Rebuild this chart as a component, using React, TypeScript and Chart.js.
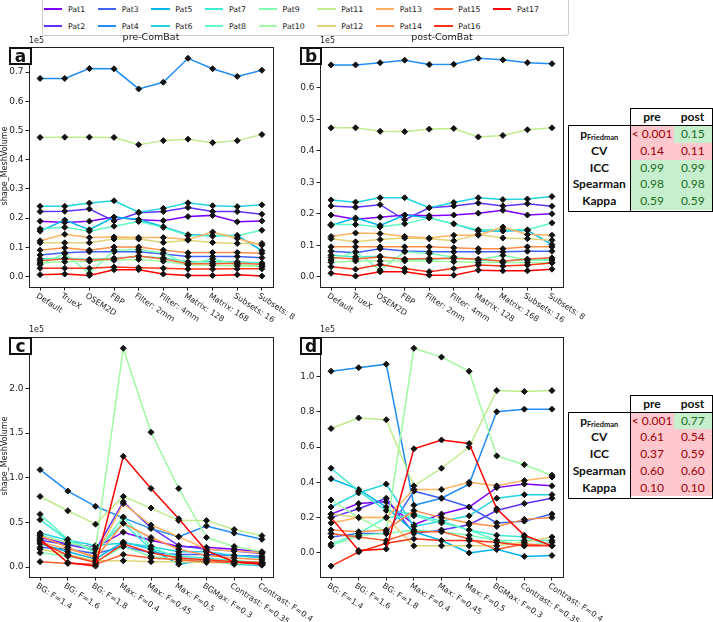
import React, { useEffect, useRef } from 'react';
import { Chart, registerables } from 'chart.js';

Chart.register(...registerables);

const PATIENTS = ['Pat1','Pat2','Pat3','Pat4','Pat5','Pat6','Pat7','Pat8','Pat9','Pat10','Pat11','Pat12','Pat13','Pat14','Pat15','Pat16','Pat17'];

const RECON_CATS = ['Default','TrueX','OSEM2D','FBP','Filter: 2mm','Filter: 4mm','Matrix: 128','Matrix: 168','Subsets: 16','Subsets: 8'];
const SEG_CATS = ['BG: F=1.4','BG: F=1.6','BG: F=1.8','Max: F=0.4','Max: F=0.45','Max: F=0.5','BGMax: F=0.3','Contrast: F=0.35','Contrast: F=0.4'];

// values in units of 1e5
const PRE_RECON: number[][] = [
  [0.189, 0.185, 0.189, 0.203, 0.194, 0.191, 0.205, 0.209, 0.187, 0.190],
  [0.222, 0.223, 0.231, 0.190, 0.218, 0.222, 0.236, 0.222, 0.222, 0.213],
  [0.073, 0.081, 0.084, 0.084, 0.084, 0.077, 0.068, 0.068, 0.068, 0.064],
  [0.678, 0.678, 0.712, 0.711, 0.642, 0.665, 0.747, 0.711, 0.685, 0.706],
  [0.155, 0.193, 0.160, 0.203, 0.195, 0.170, 0.143, 0.140, 0.140, 0.088],
  [0.240, 0.240, 0.251, 0.259, 0.220, 0.233, 0.252, 0.242, 0.239, 0.245],
  [0.060, 0.062, 0.058, 0.062, 0.068, 0.063, 0.050, 0.050, 0.050, 0.046],
  [0.163, 0.168, 0.155, 0.172, 0.188, 0.168, 0.140, 0.138, 0.140, 0.158],
  [0.040, 0.078, 0.010, 0.090, 0.092, 0.080, 0.042, 0.060, 0.040, 0.035],
  [0.046, 0.050, 0.052, 0.055, 0.058, 0.052, 0.040, 0.038, 0.036, 0.034],
  [0.476, 0.477, 0.477, 0.476, 0.451, 0.465, 0.470, 0.458, 0.465, 0.486],
  [0.115, 0.115, 0.115, 0.128, 0.128, 0.116, 0.124, 0.116, 0.113, 0.113],
  [0.122, 0.144, 0.133, 0.135, 0.133, 0.133, 0.126, 0.152, 0.130, 0.107],
  [0.090, 0.098, 0.090, 0.101, 0.101, 0.090, 0.081, 0.082, 0.082, 0.079],
  [0.054, 0.060, 0.056, 0.060, 0.070, 0.060, 0.043, 0.043, 0.045, 0.042],
  [0.028, 0.028, 0.028, 0.032, 0.030, 0.028, 0.025, 0.025, 0.026, 0.026],
  [0.006, 0.008, 0.003, 0.023, 0.023, 0.008, 0.003, 0.003, 0.006, 0.001],
];

const POST_RECON: number[][] = [
  [0.196, 0.183, 0.189, 0.196, 0.194, 0.196, 0.202, 0.211, 0.196, 0.200],
  [0.225, 0.221, 0.229, 0.181, 0.219, 0.225, 0.234, 0.225, 0.232, 0.224],
  [0.081, 0.076, 0.089, 0.082, 0.079, 0.079, 0.079, 0.079, 0.081, 0.081],
  [0.673, 0.673, 0.680, 0.688, 0.674, 0.675, 0.694, 0.689, 0.680, 0.677],
  [0.163, 0.187, 0.163, 0.196, 0.187, 0.168, 0.145, 0.145, 0.147, 0.102],
  [0.244, 0.237, 0.251, 0.251, 0.219, 0.236, 0.251, 0.245, 0.247, 0.255],
  [0.068, 0.063, 0.065, 0.055, 0.055, 0.061, 0.053, 0.050, 0.055, 0.053],
  [0.166, 0.166, 0.158, 0.168, 0.187, 0.168, 0.149, 0.149, 0.149, 0.171],
  [0.053, 0.079, 0.021, 0.079, 0.074, 0.063, 0.053, 0.068, 0.053, 0.053],
  [0.046, 0.050, 0.050, 0.050, 0.050, 0.048, 0.045, 0.045, 0.045, 0.045],
  [0.473, 0.473, 0.462, 0.461, 0.469, 0.471, 0.444, 0.449, 0.467, 0.473],
  [0.121, 0.111, 0.118, 0.123, 0.121, 0.114, 0.135, 0.123, 0.121, 0.116],
  [0.128, 0.139, 0.137, 0.128, 0.123, 0.132, 0.132, 0.158, 0.134, 0.132],
  [0.095, 0.095, 0.095, 0.095, 0.095, 0.092, 0.089, 0.089, 0.095, 0.095],
  [0.061, 0.056, 0.063, 0.056, 0.058, 0.058, 0.056, 0.049, 0.056, 0.060],
  [0.032, 0.024, 0.039, 0.026, 0.016, 0.026, 0.037, 0.034, 0.037, 0.044],
  [0.011, 0.002, 0.016, 0.016, 0.005, 0.005, 0.021, 0.019, 0.019, 0.024],
];

const PRE_SEG: number[][] = [
  [0.33, 0.26, 0.22, 0.39, 0.30, 0.23, 0.22, 0.20, 0.17],
  [0.30, 0.25, 0.19, 0.73, 0.44, 0.24, 0.20, 0.18, 0.15],
  [0.22, 0.20, 0.15, 0.23, 0.16, 0.14, 0.14, 0.13, 0.12],
  [1.09, 0.85, 0.68, 0.55, 0.43, 0.34, 0.46, 0.38, 0.31],
  [0.26, 0.17, 0.09, 0.28, 0.20, 0.03, 0.08, 0.03, 0.02],
  [0.38, 0.30, 0.24, 0.27, 0.23, 0.17, 0.17, 0.13, 0.10],
  [0.53, 0.30, 0.19, 0.49, 0.20, 0.12, 0.10, 0.07, 0.05],
  [0.59, 0.31, 0.16, 0.56, 0.23, 0.09, 0.08, 0.05, 0.04],
  [0.16, 0.12, 0.06, 0.23, 0.12, 0.08, 0.06, 0.04, 0.03],
  [0.36, 0.27, 0.21, 2.45, 1.51, 0.88, 0.33, 0.23, 0.17],
  [0.79, 0.63, 0.48, 0.79, 0.66, 0.52, 0.52, 0.42, 0.35],
  [0.20, 0.14, 0.07, 0.07, 0.06, 0.06, 0.05, 0.05, 0.05],
  [0.28, 0.20, 0.12, 0.71, 0.47, 0.34, 0.20, 0.18, 0.16],
  [0.35, 0.22, 0.10, 0.49, 0.33, 0.20, 0.13, 0.10, 0.08],
  [0.06, 0.04, 0.03, 0.14, 0.10, 0.08, 0.06, 0.05, 0.04],
  [0.28, 0.13, 0.05, 0.26, 0.16, 0.10, 0.08, 0.06, 0.05],
  [0.31, 0.05, 0.01, 1.24, 0.88, 0.54, 0.18, 0.06, 0.03],
];

const POST_SEG: number[][] = [
  [0.22, 0.28, 0.29, 0.16, 0.22, 0.26, 0.37, 0.39, 0.38],
  [0.20, 0.25, 0.31, 0.11, 0.13, 0.16, 0.24, 0.28, 0.31],
  [0.09, 0.11, 0.11, 0.35, 0.31, 0.26, 0.17, 0.18, 0.22],
  [1.03, 1.05, 1.07, 0.27, 0.31, 0.39, 0.80, 0.815, 0.815],
  [0.42, 0.36, 0.26, 0.12, 0.07, 0.00, 0.02, -0.02, -0.015],
  [0.26, 0.34, 0.39, 0.15, 0.18, 0.21, 0.31, 0.33, 0.33],
  [0.48, 0.35, 0.24, 0.22, 0.18, 0.13, 0.10, 0.09, 0.04],
  [0.05, 0.11, 0.20, 0.21, 0.17, 0.13, 0.07, 0.07, 0.07],
  [0.04, 0.10, 0.11, 0.13, 0.12, 0.10, 0.07, 0.04, 0.06],
  [0.30, 0.20, 0.12, 1.16, 1.11, 1.03, 0.55, 0.50, 0.44],
  [0.705, 0.765, 0.755, 0.38, 0.48, 0.60, 0.92, 0.915, 0.92],
  [0.22, 0.20, 0.20, 0.04, 0.04, 0.04, 0.04, 0.06, 0.09],
  [0.17, 0.20, 0.20, 0.36, 0.36, 0.40, 0.38, 0.41, 0.43],
  [0.13, 0.12, 0.13, 0.24, 0.20, 0.17, 0.15, 0.19, 0.20],
  [0.11, 0.09, 0.07, 0.12, 0.12, 0.08, 0.02, 0.05, 0.04],
  [-0.075, 0.005, 0.055, 0.08, 0.07, 0.07, 0.06, 0.04, 0.04],
  [0.20, 0.013, 0.022, 0.59, 0.64, 0.62, 0.25, 0.10, 0.04],
];

const STAT_LABELS = ['Friedman', 'CV', 'ICC', 'Spearman', 'Kappa'];
const T1_PRE = ['< 0.001', '0.14', '0.99', '0.98', '0.59'];
const T1_POST = ['0.15', '0.11', '0.99', '0.98', '0.59'];
const T1_PRE_OK = [false, false, true, true, true];
const T1_POST_OK = [true, false, true, true, true];
const T2_PRE = ['< 0.001', '0.61', '0.37', '0.60', '0.10'];
const T2_POST = ['0.77', '0.54', '0.59', '0.60', '0.10'];
const T2_PRE_OK = [false, false, false, false, false];
const T2_POST_OK = [true, false, false, false, false];

function rainbow(t: number) {
  const r = Math.min(1, Math.abs(2 * t - 0.5));
  const g = Math.sin(Math.PI * t);
  const b = Math.cos((Math.PI * t) / 2);
  const h = (v: number) => Math.round(Math.max(0, Math.min(1, v)) * 255);
  return `rgb(${h(r)},${h(g)},${h(b)})`;
}
const COLORS = PATIENTS.map((_, i) => rainbow(i / (PATIENTS.length - 1)));

const FONT = '"DejaVu Sans", sans-serif';

type PanelProps = {
  left: number; top: number; width: number; height: number;
  padTop: number; padRight: number; yWidth: number; xHeight: number;
  cats: string[]; data: number[][]; yStep: number;
};

function Panel(p: PanelProps) {
  const ref = useRef<HTMLCanvasElement | null>(null);
  useEffect(() => {
    const n = p.cats.length;
    const all = p.data.flat();
    const lo = Math.min(...all);
    const hi = Math.max(...all);
    const m = 0.05 * (hi - lo);
    const xm = 0.05 * (n - 1);
    const cats = p.cats;

    const framePlugin = {
      id: 'frame',
      afterDraw(chart: any) {
        const { ctx, chartArea: a } = chart;
        ctx.save();
        ctx.strokeStyle = '#222';
        ctx.lineWidth = 1;
        ctx.strokeRect(Math.round(a.left) + 0.5, Math.round(a.top) + 0.5, Math.round(a.right - a.left), Math.round(a.bottom - a.top));
        const xs = chart.scales.x;
        ctx.fillStyle = '#222';
        ctx.font = `8px ${FONT}`;
        ctx.textAlign = 'left';
        ctx.textBaseline = 'top';
        cats.forEach((c, i) => {
          const px = xs.getPixelForValue(i);
          ctx.save();
          ctx.translate(px - 1, a.bottom + 5);
          ctx.rotate((33 * Math.PI) / 180);
          ctx.fillText(c, 0, 0);
          ctx.restore();
        });
        ctx.restore();
      },
    };

    const chart = new Chart(ref.current as HTMLCanvasElement, {
      type: 'line',
      data: {
        datasets: p.data.map((vals, i) => ({
          label: PATIENTS[i],
          data: vals.map((v, j) => ({ x: j, y: v })),
          borderColor: COLORS[i],
          backgroundColor: COLORS[i],
          borderWidth: 1.5,
          pointStyle: 'rectRot',
          pointRadius: 3,
          pointBackgroundColor: '#111',
          pointBorderColor: '#111',
          pointBorderWidth: 1,
          tension: 0,
          order: PATIENTS.length - 1 - i,
        })),
      },
      options: {
        animation: false,
        responsive: false,
        maintainAspectRatio: false,
        devicePixelRatio: 1,
        layout: { padding: { left: 0, top: p.padTop, right: p.padRight, bottom: 0 } },
        plugins: { legend: { display: false }, tooltip: { enabled: false }, title: { display: false } },
        scales: {
          x: {
            type: 'linear',
            min: -xm,
            max: n - 1 + xm,
            ticks: { display: false, stepSize: 1, includeBounds: false },
            grid: { display: true, drawOnChartArea: false, drawTicks: true, tickLength: 3.5, color: '#222' },
            border: { display: false },
            afterFit: (s: any) => { s.height = p.xHeight; },
          },
          y: {
            type: 'linear',
            min: lo - m,
            max: hi + m,
            ticks: {
              stepSize: p.yStep,
              includeBounds: false,
              padding: 2,
              color: '#222',
              font: { family: 'DejaVu Sans', size: 9 },
              callback: (v: any) => Number(v).toFixed(1),
            },
            grid: { display: true, drawOnChartArea: false, drawTicks: true, tickLength: 3.5, color: '#222' },
            border: { display: false },
            afterFit: (s: any) => { s.width = p.yWidth; },
          },
        },
      } as any,
      plugins: [framePlugin],
    } as any);
    return () => chart.destroy();
  }, []);
  return (
    <canvas
      ref={ref}
      width={p.width}
      height={p.height}
      style={{ position: 'absolute', left: p.left, top: p.top, width: p.width, height: p.height }}
    />
  );
}

function Legend() {
  const cols: number[][] = [];
  for (let i = 0; i < PATIENTS.length; i += 2) cols.push(i + 1 < PATIENTS.length ? [i, i + 1] : [i]);
  return (
    <div style={{
      position: 'absolute', left: 42, top: -2, width: 527, height: 38, boxSizing: 'border-box',
      border: '1px solid #cccccc', borderRadius: 3, background: 'white',
      display: 'flex', gap: 12.5, paddingLeft: 1, paddingTop: 1.7,
    }}>
      {cols.map((col, ci) => (
        <div key={ci} style={{ display: 'flex', flexDirection: 'column' }}>
          {col.map((idx) => (
            <div key={idx} style={{ height: 17, display: 'flex', alignItems: 'center' }}>
              <span style={{ display: 'inline-block', width: 18.4, height: 2, background: COLORS[idx], marginRight: 5.6 }} />
              <span style={{ font: `7.8px ${FONT}`, color: '#222', whiteSpace: 'nowrap' }}>{PATIENTS[idx]}</span>
            </div>
          ))}
        </div>
      ))}
    </div>
  );
}

function StatTable({ headerTop, bodyTop, pre, post, preOk, postOk }: {
  headerTop: number; bodyTop: number; pre: string[]; post: string[]; preOk: boolean[]; postOk: boolean[];
}) {
  const rowH = 16.8;
  const tf = 'Lato, "Open Sans", sans-serif';
  const cell = (txt: string, ok: boolean, key: string) => (
    <div key={key} style={{
      height: rowH, lineHeight: `${rowH}px`, textAlign: 'center',
      background: ok ? '#c6efce' : '#ffc7ce', color: ok ? '#1e6b23' : '#9c0006',
      font: `12px ${tf}`, whiteSpace: 'nowrap',
    }}>{txt}</div>
  );
  return (
    <>
      <div style={{
        position: 'absolute', left: 630, top: headerTop, width: 83, height: bodyTop - headerTop + 1.5,
        boxSizing: 'border-box', border: '1.5px solid #000', background: 'white', display: 'flex',
        font: `bold 12px ${tf}`, color: '#111', lineHeight: `${bodyTop - headerTop - 1.5}px`,
      }}>
        <div style={{ width: 42, textAlign: 'center' }}>pre</div>
        <div style={{ flex: 1, textAlign: 'center' }}>post</div>
      </div>
      <div style={{
        position: 'absolute', left: 568, top: bodyTop, width: 145, height: 87,
        boxSizing: 'border-box', border: '1.5px solid #000', background: 'white', display: 'flex',
      }}>
        <div style={{ width: 60.5, borderRight: '1.5px solid #000' }}>
          {STAT_LABELS.map((l, i) => (
            <div key={l} style={{ height: rowH, lineHeight: `${rowH}px`, textAlign: 'center', font: `bold 12px ${tf}`, color: '#111', whiteSpace: 'nowrap' }}>
              {i === 0 ? (<span>p<sub style={{ fontSize: 7.5, verticalAlign: -2 }}>{l}</sub></span>) : l}
            </div>
          ))}
        </div>
        <div style={{ width: 43 }}>{pre.map((v, i) => cell(v, preOk[i], 'a' + i))}</div>
        <div style={{ flex: 1 }}>{post.map((v, i) => cell(v, postOk[i], 'b' + i))}</div>
      </div>
    </>
  );
}

function Letter({ left, top, width, ch }: { left: number; top: number; width: number; ch: string }) {
  return (
    <div style={{
      position: 'absolute', left, top, width, height: 18, boxSizing: 'border-box',
      border: '2px solid #111', background: 'white', textAlign: 'center',
      font: `bold 17px ${FONT}`, lineHeight: '14px', color: '#111',
    }}>{ch}</div>
  );
}

function Txt({ left, top, size, children, center }: { left: number; top: number; size: number; children: any; center?: boolean }) {
  return (
    <div style={{
      position: 'absolute', left, top, font: `${size}px ${FONT}`, color: '#222', whiteSpace: 'nowrap',
      transform: center ? 'translateX(-50%)' : undefined, lineHeight: '10px',
    }}>{children}</div>
  );
}

function YTitle({ cx, cy }: { cx: number; cy: number }) {
  return (
    <div style={{
      position: 'absolute', left: cx, top: cy, font: `8px ${FONT}`, color: '#222', whiteSpace: 'nowrap',
      transform: 'translate(-50%, -50%) rotate(-90deg)', lineHeight: '10px',
    }}>shape_MeshVolume</div>
  );
}

export default function App() {
  return (
    <div style={{ position: 'absolute', left: 0, top: 0, width: 713, height: 622, overflow: 'hidden', background: 'white', fontFamily: FONT }}>
      <Panel left={0} top={40} width={330} height={290} padTop={5} padRight={57} yWidth={29} xHeight={43} cats={RECON_CATS} data={PRE_RECON} yStep={0.1} />
      <Panel left={290} top={40} width={340} height={290} padTop={5} padRight={67} yWidth={30} xHeight={43} cats={RECON_CATS} data={POST_RECON} yStep={0.1} />
      <Panel left={0} top={330} width={340} height={292} padTop={5} padRight={67} yWidth={29} xHeight={45} cats={SEG_CATS} data={PRE_SEG} yStep={0.5} />
      <Panel left={290} top={330} width={340} height={292} padTop={5} padRight={67} yWidth={30} xHeight={45} cats={SEG_CATS} data={POST_SEG} yStep={0.2} />

      <Legend />

      <Txt left={151} top={32} size={9.5} center>pre-ComBat</Txt>
      <Txt left={442} top={32} size={9.5} center>post-ComBat</Txt>
      <Txt left={29} top={35.5} size={8}>1e5</Txt>
      <Txt left={320} top={35.5} size={8}>1e5</Txt>
      <Txt left={29} top={325} size={8}>1e5</Txt>
      <Txt left={320} top={325} size={8}>1e5</Txt>

      <YTitle cx={5} cy={166} />
      <YTitle cx={5} cy={456} />

      <Letter left={9} top={47} width={23} ch="a" />
      <Letter left={300} top={47} width={22} ch="b" />
      <Letter left={9} top={337} width={23} ch="c" />
      <Letter left={300} top={337} width={22} ch="d" />

      <StatTable headerTop={108} bodyTop={125} pre={T1_PRE} post={T1_POST} preOk={T1_PRE_OK} postOk={T1_POST_OK} />
      <StatTable headerTop={395} bodyTop={411.5} pre={T2_PRE} post={T2_POST} preOk={T2_PRE_OK} postOk={T2_POST_OK} />
    </div>
  );
}
